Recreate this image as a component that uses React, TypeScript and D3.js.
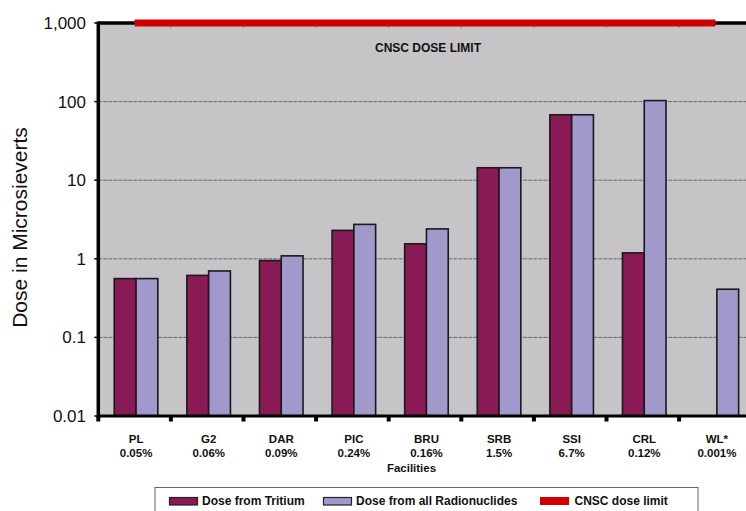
import React from "react";
import * as d3 from "d3";

const categories = ["PL", "G2", "DAR", "PIC", "BRU", "SRB", "SSI", "CRL", "WL*"];
const percentages = ["0.05%", "0.06%", "0.09%", "0.24%", "0.16%", "1.5%", "6.7%", "0.12%", "0.001%"];
const tritium: (number | null)[] = [0.56, 0.615, 0.95, 2.3, 1.55, 14.4, 68, 1.19, null];
const radionuclides: (number | null)[] = [0.56, 0.7, 1.09, 2.74, 2.4, 14.4, 68, 103, 0.41];
const doseLimit = [1000, 1000, 1000, 1000, 1000, 1000, 1000, 1000, 1000];
const yTicks = [1000, 100, 10, 1, 0.1, 0.01];
const yTickLabels = ["1,000", "100", "10", "1", "0.1", "0.01"];
const legendLabels = ["Dose from Tritium", "Dose from all Radionuclides", "CNSC dose limit"];

const W = 746;
const H = 511;
const left = 98.3;
const top = 23;
const bottom = 416;
const right = left + 9 * 72.6;

const C_TRI = "#8A1A55";
const C_RAD = "#A199CB";
const C_RED = "#D00000";
const C_BG = "#C6C4C6";
const FONT = "Arial, 'Liberation Sans', Helvetica, sans-serif";

export default function App() {
  const x = d3.scaleBand<string>().domain(categories).range([left, right]).padding(0);
  const y = d3.scaleLog().domain([0.01, 1000]).range([bottom, top]);
  const bw = x.bandwidth();
  const barW = bw * 0.3;
  const off = bw * 0.22;

  const line = d3
    .line<number>()
    .x((_, i) => (x(categories[i]) as number) + bw / 2)
    .y((d) => y(d));

  const boundaries = d3.range(0, categories.length + 1).map((i) => left + i * bw);

  const series = [
    { vals: tritium, color: C_TRI, idx: 0 },
    { vals: radionuclides, color: C_RAD, idx: 1 },
  ];

  return (
    <svg
      width={W}
      height={H}
      style={{ position: "absolute", left: 0, top: 0, background: "#fff" }}
      fontFamily={FONT}
    >
      <rect x={left} y={top} width={right - left} height={bottom - top} fill={C_BG} />
      {/* gridlines */}
      {yTicks
        .filter((t) => t !== 1000 && t !== 0.01)
        .map((t) => (
          <line
            key={"g" + t}
            x1={left}
            x2={right}
            y1={y(t)}
            y2={y(t)}
            stroke="#6a6a6a"
            strokeWidth={1}
            strokeDasharray="4,1"
          />
        ))}
      {/* top ticks */}
      {boundaries.slice(1).map((b, i) => (
        <line key={"tt" + i} x1={b} x2={b} y1={top} y2={top + 5} stroke="#888" strokeWidth={1} />
      ))}
      {/* bars */}
      {series.map((s) =>
        s.vals.map((v, i) =>
          v == null ? null : (
            <rect
              key={"b" + s.idx + "-" + i}
              x={(x(categories[i]) as number) + off + s.idx * barW}
              y={y(v)}
              width={barW}
              height={bottom - y(v)}
              fill={s.color}
              stroke="#1a1a1a"
              strokeWidth={1.6}
            />
          )
        )
      )}
      {/* axes */}
      <line x1={left} x2={right} y1={top} y2={top} stroke="#000" strokeWidth={3.5} />
      <line x1={left} x2={right} y1={bottom} y2={bottom} stroke="#000" strokeWidth={3} />
      <line x1={left} x2={left} y1={top - 1.5} y2={bottom + 1.5} stroke="#000" strokeWidth={3.5} />
      {/* bottom ticks */}
      {boundaries.map((b, i) => (
        <rect key={"bt" + i} x={b - 2} y={bottom} width={4} height={5.5} fill="#000" />
      ))}
      {/* left ticks */}
      {yTicks.map((t) => (
        <line key={"lt" + t} x1={left - 4} x2={left} y1={y(t)} y2={y(t)} stroke="#000" strokeWidth={1.5} />
      ))}
      {/* dose limit line */}
      <path d={line(doseLimit) || ""} stroke={C_RED} strokeWidth={7} fill="none" />
      <text x={428} y={52} textAnchor="middle" fontSize={12} fontWeight="bold" fill="#111">
        CNSC DOSE LIMIT
      </text>
      {/* y labels */}
      {yTicks.map((t, i) => (
        <text key={"yl" + t} x={86} y={y(t) + 6} textAnchor="end" fontSize={17} fill="#111">
          {yTickLabels[i]}
        </text>
      ))}
      <text
        transform={`translate(27,227.5) rotate(-90)`}
        textAnchor="middle"
        fontSize={21}
        fill="#111"
      >
        Dose in Microsieverts
      </text>
      {/* x labels */}
      {categories.map((c, i) => (
        <g key={"xl" + c}>
          <text
            x={(x(c) as number) + bw / 2 + 1.5}
            y={442.5}
            textAnchor="middle"
            fontSize={11.5}
            fontWeight="bold"
            fill="#111"
          >
            {c}
          </text>
          <text
            x={(x(c) as number) + bw / 2 + 1.5}
            y={457}
            textAnchor="middle"
            fontSize={11.5}
            fontWeight="bold"
            fill="#111"
          >
            {percentages[i]}
          </text>
        </g>
      ))}
      <text x={411.5} y={471.5} textAnchor="middle" fontSize={11.5} fontWeight="bold" fill="#111">
        Facilities
      </text>
      {/* legend */}
      <rect x={155} y={487.5} width={543} height={40} fill="#fff" stroke="#666" strokeWidth={1} />
      <rect x={169.5} y={497.5} width={28} height={7.5} fill={C_TRI} stroke="#222" strokeWidth={1.2} />
      <text x={202} y={505} fontSize={12} fontWeight="bold" fill="#111">
        {legendLabels[0]}
      </text>
      <rect x={323.5} y={497.5} width={28} height={7.5} fill={C_RAD} stroke="#222" strokeWidth={1.2} />
      <text x={356} y={505} fontSize={12} fontWeight="bold" fill="#111">
        {legendLabels[1]}
      </text>
      <rect x={540} y={497} width={29} height={8} fill={C_RED} />
      <text x={574.5} y={505} fontSize={12} fontWeight="bold" fill="#111">
        {legendLabels[2]}
      </text>
    </svg>
  );
}
